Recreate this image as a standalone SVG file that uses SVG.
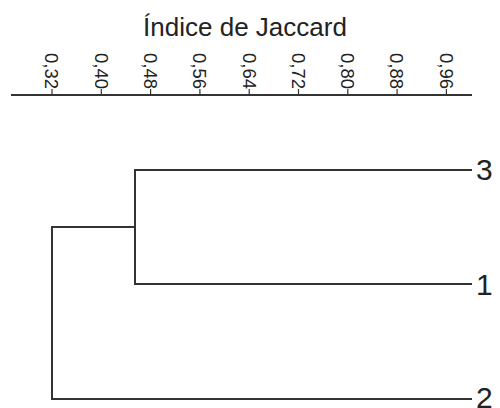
<svg xmlns="http://www.w3.org/2000/svg" width="500" height="408" viewBox="0 0 500 408">
  <style>
    .title { font-family: "Liberation Sans", Arial, sans-serif; font-size: 26px; fill: #222; }
    .tick-label { font-family: "Liberation Sans", Arial, sans-serif; font-size: 18.5px; fill: #222; }
    .leaf-label { font-family: "Liberation Sans", Arial, sans-serif; font-size: 30px; fill: #222; }
    .axis, .tick, .branch { stroke: #333; stroke-width: 2; fill: none; stroke-linecap: square; }
    .tick { stroke-width: 1.2; stroke-linecap: butt; }
  </style>
  <rect width="500" height="408" fill="#fff"/>

  <!-- Similarity axis -->
  <g id="axis">
    <text class="title" x="245" y="36" text-anchor="middle">Índice de Jaccard</text>
    <line class="axis" x1="12" y1="95" x2="471" y2="95"/>
    <g id="ticks">
      <line class="tick" x1="52" y1="89" x2="52" y2="95"/>
      <line class="tick" x1="101.3" y1="89" x2="101.3" y2="95"/>
      <line class="tick" x1="150.6" y1="89" x2="150.6" y2="95"/>
      <line class="tick" x1="199.9" y1="89" x2="199.9" y2="95"/>
      <line class="tick" x1="249.2" y1="89" x2="249.2" y2="95"/>
      <line class="tick" x1="298.5" y1="89" x2="298.5" y2="95"/>
      <line class="tick" x1="347.8" y1="89" x2="347.8" y2="95"/>
      <line class="tick" x1="397.1" y1="89" x2="397.1" y2="95"/>
      <line class="tick" x1="446.4" y1="89" x2="446.4" y2="95"/>
    </g>
    <g id="tick-labels" text-anchor="end">
      <text class="tick-label" transform="translate(45.3,89) rotate(90)">0,32</text>
      <text class="tick-label" transform="translate(94.6,89) rotate(90)">0,40</text>
      <text class="tick-label" transform="translate(143.9,89) rotate(90)">0,48</text>
      <text class="tick-label" transform="translate(193.2,89) rotate(90)">0,56</text>
      <text class="tick-label" transform="translate(242.5,89) rotate(90)">0,64</text>
      <text class="tick-label" transform="translate(291.8,89) rotate(90)">0,72</text>
      <text class="tick-label" transform="translate(341.1,89) rotate(90)">0,80</text>
      <text class="tick-label" transform="translate(390.4,89) rotate(90)">0,88</text>
      <text class="tick-label" transform="translate(439.7,89) rotate(90)">0,96</text>
    </g>
  </g>

  <!-- Leaves -->
  <g id="leaf-3"><text class="leaf-label" x="476" y="180">3</text></g>
  <g id="leaf-1"><text class="leaf-label" x="476" y="295">1</text></g>
  <g id="leaf-2"><text class="leaf-label" x="476" y="408">2</text></g>

  <!-- Dendrogram branches -->
  <g id="connectors">
    <polyline class="branch" points="471,170 135,170 135,284 471,284"/>
    <polyline class="branch" points="135,227 52,227 52,399 471,399"/>
  </g>
</svg>
